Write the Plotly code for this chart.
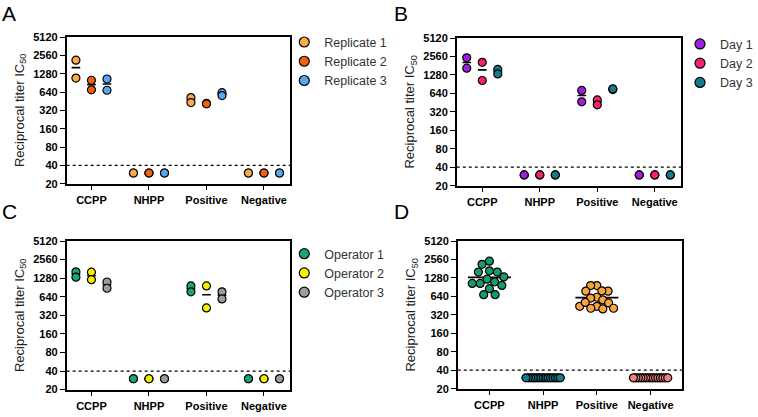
import math
import plotly.graph_objects as go

# ---------------- data ----------------
categories = ["CCPP", "NHPP", "Positive", "Negative"]
tick_values = [20, 40, 80, 160, 320, 640, 1280, 2560, 5120]
tick_labels = ["20", "40", "80", "160", "320", "640", "1280", "2560", "5120"]
threshold = 40

# Panel A (per category: two replicate measurements)
replicate1 = [[2140, 1085], [30, 30], [520, 431], [30, 30]]
replicate2 = [[1000, 696], [30, 30], [416, 410], [30, 30]]
replicate3 = [[1050, 686], [30, 30], [625, 560], [30, 30]]

# Panel B
day1 = [[2440, 1650], [30, 30], [715, 466], [30, 30]]
day2 = [[2060, 1040], [30, 30], [502, 417], [30, 30]]
day3 = [[1575, 1330], [30, 30], [740, 760], [30, 30]]

# Panel C
operator1 = [[1620, 1330], [30, 30], [960, 770], [30, 30]]
operator2 = [[1600, 1210], [30, 30], [960, 422], [30, 30]]
operator3 = [[1110, 880], [30, 30], [770, 590], [30, 30]]

# Panel D (all measurements pooled)
d_ccpp = [2405, 1595, 1040, 1220, 856, 1040, 1670, 682, 1106, 682, 1330, 2135, 1595, 965]
d_nhpp = [30, 30, 30, 30, 30, 30, 30, 30, 30, 30, 30, 30, 30, 30, 30]
d_positive = [960, 960, 780, 780, 790, 620, 600, 560, 500, 440, 410, 400, 410, 440, 510]
d_negative = [30, 30, 30, 30, 30, 30, 30, 30, 30, 30, 30, 30, 30, 30, 30]

# ---------------- styling ----------------
W, H = 758, 417
FONT = "Liberation Sans, Arial, sans-serif"
MS = 8
MLW = 1.2

panels = {
    # name: (x px left, x px right, y px top, y px bottom, x range)
    "A": (68, 296, 32, 183, [-0.431, 3.455]),
    "B": (466, 695, 33, 185, [-0.443, 3.46]),
    "C": (68, 296, 242, 395, [-0.431, 3.455]),
    "D": (467, 696, 242, 394, [-0.589, 3.589]),
}

fig = go.Figure()
layout = {}
axis_ids = {"A": ("x", "y"), "B": ("x2", "y2"), "C": ("x3", "y3"), "D": ("x4", "y4")}

for name, (xl, xr, yt, yb, xr_range) in panels.items():
    xa, ya = axis_ids[name]
    xkey = "xaxis" + xa[1:]
    ykey = "yaxis" + ya[1:]
    layout[xkey] = dict(
        domain=[xl / W, xr / W], anchor=ya, range=xr_range,
        tickvals=[0, 1, 2, 3], ticktext=categories,
        showline=True, linewidth=1.5, linecolor="black", mirror=True,
        ticks="outside", ticklen=5, tickwidth=1.3, tickcolor="black",
        showgrid=False, zeroline=False,
        tickfont=dict(family=FONT, size=11, color="black", weight="bold"),
    )
    layout[ykey] = dict(
        domain=[1 - yb / H, 1 - yt / H], anchor=xa, type="log",
        range=[math.log10(20), math.log10(5120)],
        tickvals=tick_values, ticktext=tick_labels,
        showline=True, linewidth=1.5, linecolor="black", mirror=True,
        ticks="outside", ticklen=5, tickwidth=1.3, tickcolor="black",
        showgrid=False, zeroline=False,
        tickfont=dict(family=FONT, size=11, color="black", weight="bold"),
        title=dict(text="Reciprocal titer IC<sub>50</sub>",
                   font=dict(family=FONT, size=13, color="#222"), standoff=6),
    )
    fig.add_shape(type="line", xref=xa + " domain", yref=ya, x0=0, x1=1,
                  y0=threshold, y1=threshold,
                  line=dict(color="black", width=1.3, dash="dot"))


def mean(v):
    return sum(v) / len(v)


def add_grouped(series, names, colors, xa, ya, legend, offsets=(-0.27, 0.0, 0.27), hw=0.075):
    # mean lines
    for s, off in zip(series, offsets):
        lx, ly = [], []
        for ci, vals in enumerate(s):
            m = mean(vals)
            lx += [ci + off - hw, ci + off + hw, None]
            ly += [m, m, None]
        fig.add_trace(go.Scatter(x=lx, y=ly, mode="lines", xaxis=xa, yaxis=ya,
                                 line=dict(color="black", width=1.6),
                                 showlegend=False, hoverinfo="skip"))
    for s, nm, col, off in zip(series, names, colors, offsets):
        xs, ys = [], []
        for ci, vals in enumerate(s):
            for v in vals:
                xs.append(ci + off)
                ys.append(v)
        fig.add_trace(go.Scatter(x=xs, y=ys, mode="markers", xaxis=xa, yaxis=ya,
                                 marker=dict(size=MS, color=col, line=dict(color="black", width=MLW)),
                                 showlegend=False, name=nm))
    # legend entries
    for nm, col in zip(names, colors):
        fig.add_trace(go.Scatter(x=[None], y=[None], mode="markers", xaxis=xa, yaxis=ya,
                                 marker=dict(size=10, color=col, line=dict(color="black", width=MLW)),
                                 name=nm, legend=legend, showlegend=True))


add_grouped([replicate1, replicate2, replicate3], ["Replicate 1", "Replicate 2", "Replicate 3"],
            ["#FBA94C", "#F2620E", "#58A7F0"], "x", "y", "legend")
add_grouped([day1, day2, day3], ["Day 1", "Day 2", "Day 3"],
            ["#A11EE0", "#F4226F", "#157A8A"], "x2", "y2", "legend2")
add_grouped([operator1, operator2, operator3], ["Operator 1", "Operator 2", "Operator 3"],
            ["#17A672", "#F5EE00", "#9C9C9C"], "x3", "y3", "legend3")


# ---------------- panel D swarm ----------------
def swarm_offsets(values, px_per_oct, diam, max_half):
    n = len(values)
    ys = [math.log2(v) * px_per_oct for v in values]
    order = sorted(range(n), key=lambda i: -values[i])
    xs = [0.0] * n
    placed = []
    for i in order:
        y = ys[i]
        intervals = []
        for j in placed:
            dy = abs(y - ys[j])
            if dy < diam:
                dx = math.sqrt(diam * diam - dy * dy)
                intervals.append((xs[j] - dx, xs[j] + dx))
        cands = [0.0] + [a for a, b in intervals] + [b for a, b in intervals]
        cands.sort(key=lambda c: (abs(c), c))
        for c in cands:
            if all(not (a + 1e-9 < c < b - 1e-9) for a, b in intervals):
                xs[i] = c
                break
        placed.append(i)
    m = max(abs(x) for x in xs)
    if m > max_half:
        xs = [x * max_half / m for x in xs]
    return xs


px_per_cat_D = 54.8
px_per_oct_D = 19.0
d_sets = [d_ccpp, d_nhpp, d_positive, d_negative]
d_colors = ["#149C6C", "#157A8A", "#F9A53F", "#F2807E"]

lx, ly = [], []
for ci, vals in enumerate(d_sets):
    m = mean(vals)
    lx += [ci - 0.4, ci + 0.4, None]
    ly += [m, m, None]
fig.add_trace(go.Scatter(x=lx, y=ly, mode="lines", xaxis="x4", yaxis="y4",
                         line=dict(color="black", width=1.6), showlegend=False, hoverinfo="skip"))
for ci, (vals, col) in enumerate(zip(d_sets, d_colors)):
    offs = swarm_offsets(vals, px_per_oct_D, 9.0, 17.5)
    fig.add_trace(go.Scatter(x=[ci + o / px_per_cat_D for o in offs], y=vals, mode="markers",
                             xaxis="x4", yaxis="y4",
                             marker=dict(size=MS, color=col, line=dict(color="black", width=MLW)),
                             showlegend=False, name=categories[ci]))

# ---------------- panel letters ----------------
letters = [("A", 0, 8), ("B", 400, 8), ("C", 0, 212), ("D", 400, 212)]
annotations = []
for t, px, py in letters:
    annotations.append(dict(text=t, x=px / W, y=1 - py / H, xref="paper", yref="paper",
                            xanchor="left", yanchor="middle", showarrow=False,
                            font=dict(family=FONT, size=21, color="black")))

leg_font = dict(family=FONT, size=12.5, color="#333")


def legend_at(px, py):
    return dict(x=px / W, y=1 - py / H, xanchor="left", yanchor="top",
                bgcolor="rgba(0,0,0,0)", font=leg_font, itemwidth=30,
                tracegroupgap=0)


fig.update_layout(
    width=W, height=H, margin=dict(l=0, r=0, t=0, b=0), autosize=False,
    paper_bgcolor="white", plot_bgcolor="white",
    showlegend=True,
    legend=legend_at(290, 22),
    legend2=legend_at(694, 24),
    legend3=legend_at(290, 240),
    annotations=annotations,
    **layout,
)

fig.write_html("out.html", config={"displayModeBar": False},
               post_script="document.body.style.margin='0';document.body.style.overflow='hidden';")
